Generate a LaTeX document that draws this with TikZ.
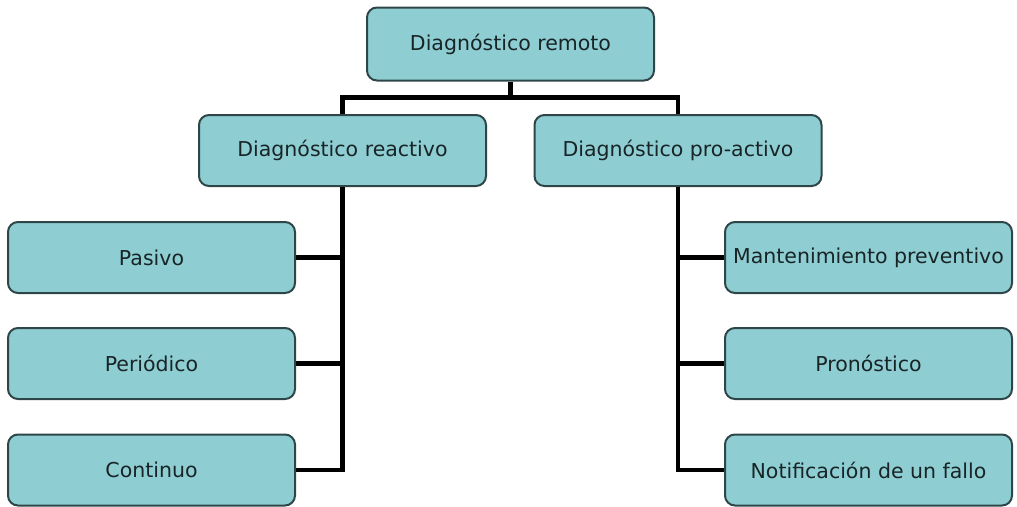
\documentclass[tikz,border=0pt]{standalone}
\usepackage{fontspec}
\setmainfont{DejaVu Sans}
\definecolor{boxfill}{RGB}{142,206,211}
\definecolor{boxline}{RGB}{46,70,72}
\definecolor{txt}{RGB}{24,36,38}
\begin{document}
\begin{tikzpicture}[x=1pt,y=-1pt,
  box/.style={draw=boxline, line width=2pt, fill=boxfill, rounded corners=10pt,
    minimum width=287pt, minimum height=71pt, inner sep=0pt, text=txt,
    font=\fontsize{20.5}{24}\selectfont},
  conn/.style={draw=black, line width=4.5pt}]
\useasboundingbox (0,0) rectangle (1017,506);
\node[box, minimum height=73pt] (top) at (510.5,44) {Diagnóstico remoto};
\node[box] (reac) at (342.5,150.5) {Diagnóstico reactivo};
\node[box] (pro) at (678,150.5) {Diagnóstico pro-activo};
\node[box] (pas) at (151.5,257.5) {Pasivo};
\node[box] (per) at (151.5,363.5) {Periódico};
\node[box] (con) at (151.5,470) {Continuo};
\node[box] (man) at (868.5,257.5) {Mantenimiento preventivo};
\node[box] (prn) at (868.5,363.5) {Pronóstico};
\node[box] (not) at (868.5,470) {Notificación de un fallo};
\coordinate (split) at (510.5,97.5);
\draw[conn] (top.south) -- (split);
\draw[conn] (split) -| (reac.north);
\draw[conn] (split) -| (pro.north);
\draw[conn] (reac.south) |- (con.east);
\draw[conn] (pas.east) -- (pas.east -| reac.south);
\draw[conn] (per.east) -- (per.east -| reac.south);
\draw[conn] (pro.south) |- (not.west);
\draw[conn] (man.west) -- (man.west -| pro.south);
\draw[conn] (prn.west) -- (prn.west -| pro.south);
\end{tikzpicture}
\end{document}
